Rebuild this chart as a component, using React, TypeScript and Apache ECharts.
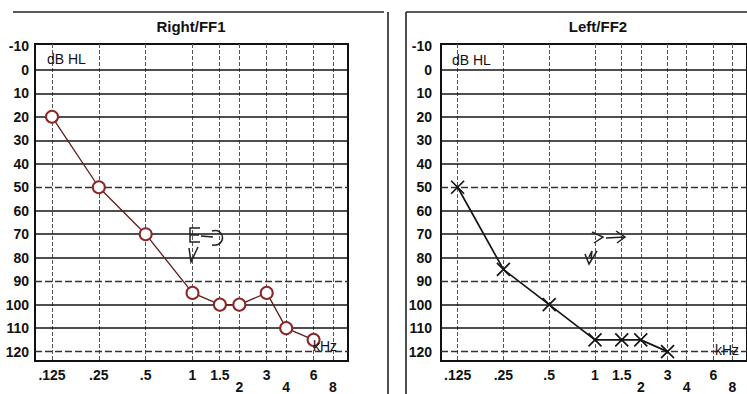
import React, { useEffect, useRef } from "react";
import * as echarts from "echarts";

// ---- data ----
const rightFreqs = [0.125, 0.25, 0.5, 1, 1.5, 2, 3, 4, 6];
const rightDb = [20, 50, 70, 95, 100, 100, 95, 110, 115];
const leftFreqs = [0.125, 0.25, 0.5, 1, 1.5, 2, 3];
const leftDb = [50, 85, 100, 115, 115, 115, 120];

const gridFreqs = [0.125, 0.25, 0.5, 1, 1.5, 2, 3, 4, 6, 8];
const topTickFreqs = [0.125, 0.25, 0.5, 1, 1.5, 3, 6];
const topTickLabels = [".125", ".25", ".5", "1", "1.5", "3", "6"];
const lowTickFreqs = [2, 4, 8];
const lowTickLabels = ["2", "4", "8"];
const dbLevels = [0, 10, 20, 30, 40, 50, 60, 70, 80, 90, 100, 110, 120];
const dbTickLabels = [-10, 0, 10, 20, 30, 40, 50, 60, 70, 80, 90, 100, 110, 120];
const titles = ["Right/FF1", "Left/FF2"];

// ---- style ----
const FONT = "'Liberation Sans', Arial, Helvetica, sans-serif";
const DASHED_LEVELS = [50, 90, 120];
const X_MIN = -3.363;
const X_MAX = 3.32;
const Y_MIN = -11;
const Y_MAX = 124;

const lg = (f: number) => Math.log2(f);

function labelFor(freqs: number[], labels: string[]) {
  return (v: number) => {
    for (let i = 0; i < freqs.length; i++) {
      if (Math.abs(lg(freqs[i]) - v) < 1e-6) return labels[i];
    }
    return "";
  };
}

export default function App() {
  const ref = useRef<HTMLDivElement>(null);
  useEffect(() => {
    if (!ref.current) return;
    const chart = echarts.init(ref.current, null, { renderer: "svg" });

    const grids = [
      { left: 35, top: 44, width: 313, height: 318 },
      { left: 441, top: 44, width: 309, height: 318 },
    ];

    const xAxes: any[] = [];
    const yAxes: any[] = [];
    const series: any[] = [];

    const labelStyle = { fontSize: 14, fontWeight: "bold", color: "#111", fontFamily: FONT };

    grids.forEach((g, gi) => {
      const base = {
        type: "value",
        gridIndex: gi,
        min: X_MIN,
        max: X_MAX,
        axisLine: { show: false },
        axisTick: { show: false },
        splitLine: { show: false },
      };
      xAxes.push({
        ...base,
        position: "bottom",
        axisLabel: {
          customValues: topTickFreqs.map(lg),
          formatter: labelFor(topTickFreqs, topTickLabels),
          margin: 7,
          ...labelStyle,
        },
      });
      xAxes.push({
        ...base,
        position: "bottom",
        axisLabel: {
          customValues: lowTickFreqs.map(lg),
          formatter: labelFor(lowTickFreqs, lowTickLabels),
          margin: 19,
          ...labelStyle,
        },
      });
      yAxes.push({
        type: "value",
        gridIndex: gi,
        inverse: true,
        min: Y_MIN,
        max: Y_MAX,
        axisLine: { show: false },
        axisTick: { show: false },
        splitLine: { show: false },
        axisLabel: {
          customValues: dbTickLabels,
          margin: gi === 0 ? 6 : 9,
          ...labelStyle,
        },
      });

      // grid lines
      series.push({
        type: "line",
        xAxisIndex: gi * 2,
        yAxisIndex: gi,
        data: [],
        silent: true,
        z: 1,
        markLine: {
          silent: true,
          symbol: ["none", "none"],
          label: { show: false },
          animation: false,
          data: [
            ...gridFreqs.map((f) => ({
              xAxis: lg(f),
              lineStyle: { color: "#555", width: 1, type: [4, 2] },
            })),
            ...dbLevels.map((d) => ({
              yAxis: d,
              lineStyle: DASHED_LEVELS.includes(d)
                ? { color: "#333", width: 1.3, type: [7, 3] }
                : { color: "#151515", width: 1.6, type: "solid" },
            })),
          ],
        },
      });
    });

    series.push({
      type: "line",
      name: "Right",
      xAxisIndex: 0,
      yAxisIndex: 0,
      z: 5,
      data: rightFreqs.map((f, i) => [lg(f), rightDb[i]]),
      symbol: "emptyCircle",
      symbolSize: 12,
      lineStyle: { color: "#5e1d1d", width: 1.3 },
      itemStyle: { color: "#8a2828", borderColor: "#8a2828", borderWidth: 1.5 },
    });
    series.push({
      type: "line",
      name: "Left",
      xAxisIndex: 2,
      yAxisIndex: 1,
      z: 5,
      data: leftFreqs.map((f, i) => [lg(f), leftDb[i]]),
      symbol: "path://M0,0L10,10M10,0L0,10",
      symbolSize: 13,
      lineStyle: { color: "#151515", width: 1.7 },
      itemStyle: { color: "rgba(0,0,0,0)", borderColor: "#151515", borderWidth: 1.7 },
    });

    const stroke = { stroke: "#222", lineWidth: 1.5, fill: null };
    const frame = { stroke: "#222", lineWidth: 1.6 };

    chart.setOption({
      animation: false,
      backgroundColor: "#ffffff",
      grid: grids.map((g) => ({
        ...g,
        show: true,
        borderColor: "#111",
        borderWidth: 2,
        backgroundColor: "transparent",
        containLabel: false,
      })),
      xAxis: xAxes,
      yAxis: yAxes,
      series,
      graphic: [
        // frame lines
        { type: "line", shape: { x1: 13, y1: 12, x2: 384, y2: 12 }, style: frame },
        { type: "line", shape: { x1: 388, y1: 12, x2: 388, y2: 394 }, style: frame },
        { type: "line", shape: { x1: 406, y1: 12, x2: 406, y2: 394 }, style: frame },
        { type: "line", shape: { x1: 406, y1: 12, x2: 747, y2: 12 }, style: frame },
        // titles
        {
          type: "text",
          x: 191,
          y: 26,
          style: { text: titles[0], font: `bold 15px ${FONT}`, fill: "#111", align: "center", verticalAlign: "middle" },
        },
        {
          type: "text",
          x: 598,
          y: 26,
          style: { text: titles[1], font: `bold 15px ${FONT}`, fill: "#111", align: "center", verticalAlign: "middle" },
        },
        // dB HL
        { type: "text", x: 47, y: 59, z: 10, style: { text: "dB HL", font: `14px ${FONT}`, fill: "#111", verticalAlign: "middle" } },
        { type: "text", x: 452, y: 60, z: 10, style: { text: "dB HL", font: `14px ${FONT}`, fill: "#111", verticalAlign: "middle" } },
        // kHz
        { type: "text", x: 313, y: 346, z: 10, style: { text: "kHz", font: `14px ${FONT}`, fill: "#111", verticalAlign: "middle" } },
        { type: "text", x: 715, y: 350, z: 10, style: { text: "kHz", font: `14px ${FONT}`, fill: "#111", verticalAlign: "middle" } },
        // handwritten marks, right chart
        { type: "polyline", z: 10, shape: { points: [[200, 228], [190, 228], [190, 242], [200, 242]] }, style: stroke },
        { type: "polyline", z: 10, shape: { points: [[190, 235], [199, 235]] }, style: stroke },
        { type: "polyline", z: 10, shape: { points: [[201, 236], [213, 237]] }, style: stroke },
        {
          type: "bezierCurve",
          z: 10,
          shape: { x1: 212, y1: 231, cpx1: 225, cpy1: 227, cpx2: 227, cpy2: 247, x2: 212, y2: 245 },
          style: stroke,
        },
        { type: "polyline", z: 10, shape: { points: [[189, 248], [191, 262], [198, 247]] }, style: stroke },
        // handwritten marks, left chart
        { type: "polyline", z: 10, shape: { points: [[592, 232], [603, 237], [594, 243]] }, style: stroke },
        { type: "polyline", z: 10, shape: { points: [[606, 238], [625, 237]] }, style: stroke },
        { type: "polyline", z: 10, shape: { points: [[616, 231], [625, 237], [617, 243]] }, style: stroke },
        { type: "polyline", z: 10, shape: { points: [[585, 254], [589, 264], [597, 251]] }, style: stroke },
        { type: "polyline", z: 10, shape: { points: [[589, 257], [592, 251], [591, 259]] }, style: stroke },
      ],
    });
    return () => chart.dispose();
  }, []);

  return <div ref={ref} style={{ position: "absolute", left: 0, top: 0, width: 747, height: 394 }} />;
}
